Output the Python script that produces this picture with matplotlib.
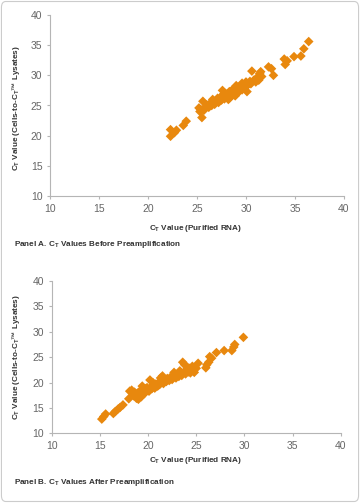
import matplotlib
matplotlib.use("Agg")
import matplotlib.pyplot as plt
from matplotlib.patches import FancyBboxPatch

plt.rcParams['font.family'] = ['Liberation Sans', 'DejaVu Sans']
plt.rcParams['mathtext.fontset'] = 'custom'
plt.rcParams['mathtext.rm'] = 'Liberation Sans'
plt.rcParams['mathtext.bf'] = 'Liberation Sans:bold'

# Panel A: before preamplification
purified_a = [22.3, 22.3, 22.7, 22.9, 23.6, 23.9,
              25.2, 25.3, 25.4, 25.5, 25.6, 25.7, 25.9, 26.0, 26.2, 26.3, 26.5, 26.6,
              26.7, 26.8, 26.9, 27.0, 27.1, 27.2, 27.3, 27.4, 27.5, 27.6, 27.6, 27.7,
              27.8, 27.9, 28.0, 28.1, 28.2, 28.3, 28.3, 28.4, 28.5, 28.6, 28.7, 28.8,
              28.9, 28.9, 29.0, 29.0, 29.1, 29.2, 29.3, 29.4, 29.5, 29.6, 29.6, 29.7,
              29.8, 29.9, 30.0, 30.0, 30.1, 30.2, 30.4, 30.5, 30.6, 30.8, 31.0, 31.1,
              31.3, 31.4, 31.5, 31.6, 32.3, 32.6, 32.8, 33.9, 34.0, 34.2, 34.9, 35.6,
              35.9, 36.4]
lysate_a = [19.9, 21.0, 20.5, 20.9, 21.7, 22.4,
            24.6, 24.0, 24.3, 23.0, 25.7, 24.2, 24.8, 25.1, 24.7, 25.3, 25.0, 26.0,
            25.4, 25.2, 25.8, 25.6, 26.2, 25.5, 26.0, 26.4, 25.9, 27.5, 26.5, 26.8,
            26.1, 27.0, 26.4, 26.8, 26.0, 27.3, 26.2, 26.6, 27.0, 27.6, 26.8, 27.2,
            27.8, 26.6, 27.0, 28.3, 27.5, 28.0, 27.3, 27.9, 28.2, 27.6, 28.7, 28.4,
            28.0, 28.6, 28.9, 28.1, 27.3, 28.5, 29.0, 28.6, 30.7, 29.2, 28.9, 29.6,
            29.2, 30.3, 30.6, 29.8, 31.4, 31.1, 30.0, 32.7, 31.8, 32.4, 33.1, 33.2,
            34.4, 35.6]

# Panel B: after preamplification
purified_b = [15.2, 15.4, 15.6, 16.4, 16.6, 16.9, 17.1, 17.4, 18.0, 18.1, 18.3, 18.5,
              18.6, 18.8, 18.9, 19.0, 19.1, 19.2, 19.3, 19.3, 19.4, 19.5, 19.6, 19.7,
              19.8, 19.9, 20.0, 20.1, 20.2, 20.3, 20.4, 20.5, 20.6, 20.7, 20.8, 21.0,
              21.1, 21.2, 21.3, 21.4, 21.5, 21.6, 21.7, 21.9, 22.0, 22.2, 22.3, 22.5,
              22.6, 22.7, 22.8, 22.9, 23.0, 23.2, 23.3, 23.4, 23.5, 23.6, 23.7, 23.8,
              23.9, 24.0, 24.1, 24.2, 24.3, 24.4, 24.5, 24.6, 24.8, 25.0, 25.2, 26.0,
              26.1, 26.3, 26.4, 26.6, 27.1, 27.9, 28.7, 28.9, 29.0, 29.9]
lysate_b = [12.8, 13.3, 13.8, 13.9, 14.3, 14.8, 15.1, 15.6, 16.8, 18.3, 18.5, 17.4,
            18.1, 16.9, 17.9, 16.7, 17.6, 18.0, 17.2, 18.6, 19.3, 18.3, 17.8, 18.8,
            18.2, 19.0, 18.6, 18.3, 20.5, 19.1, 18.8, 20.0, 19.4, 18.9, 19.7, 19.3,
            20.0, 19.6, 20.9, 20.2, 21.3, 19.8, 20.5, 20.2, 20.8, 20.4, 21.0, 20.6,
            21.3, 22.0, 21.5, 20.9, 21.6, 21.2, 22.3, 21.8, 21.4, 24.0, 22.0, 23.5,
            21.7, 22.5, 23.0, 22.1, 22.8, 21.9, 22.4, 23.2, 22.0, 22.8, 23.8, 22.9,
            23.5, 24.0, 25.1, 24.8, 25.9, 26.3, 26.3, 27.0, 27.5, 28.9]

ticks = [10, 15, 20, 25, 30, 35, 40]
orange = '#E8880E'
W, H = 360, 503

fig = plt.figure(figsize=(W / 100, H / 100), dpi=100)
fig.patches.append(FancyBboxPatch((0.004, 0.003), 0.992, 0.994,
                                  boxstyle="round,pad=0,rounding_size=0.012",
                                  transform=fig.transFigure, fill=False,
                                  edgecolor='#cccccc', linewidth=0.8))


def panel(rect, xs, ys):
    ax = fig.add_axes(rect)
    ax.scatter(xs, ys, marker='D', s=24, color=orange, edgecolors='none')
    ax.set_xlim(10, 40)
    ax.set_ylim(10, 40)
    ax.set_xticks(ticks)
    ax.set_yticks(ticks)
    for s in ['top', 'right']:
        ax.spines[s].set_visible(False)
    for s in ['left', 'bottom']:
        ax.spines[s].set_color('#b5b5b5')
        ax.spines[s].set_linewidth(0.8)
    ax.tick_params(colors='#b5b5b5', labelcolor='#666666', labelsize=7.5,
                   length=2.5, width=0.8, pad=3)
    return ax


# pixel -> figure fraction
def fx(px):
    return px / W


def fy(py):
    return 1 - py / H


panel([fx(50), fy(196), fx(344) - fx(50), fy(15) - fy(196)], purified_a, lysate_a)
panel([fx(51.7), fy(433.3), fx(340.7) - fx(51.7), fy(281) - fy(433.3)], purified_b, lysate_b)

xlab = r'C$_\mathbf{T}$ Value (Purified RNA)'
ylab = r'C$_\mathbf{T}$ Value (Cells-to-C$_\mathbf{T}$™ Lysates)'
kw = dict(fontsize=5.9, fontweight='bold', color='#333333')

fig.text(fx(196), fy(229), xlab, ha='center', va='center', **kw)
fig.text(fx(16), fy(108), ylab, ha='center', va='center', rotation=90, **kw)
fig.text(fx(14), fy(245), r'Panel A. C$_\mathbf{T}$ Values Before Preamplification',
         ha='left', va='center', **kw)

fig.text(fx(196), fy(461), xlab, ha='center', va='center', **kw)
fig.text(fx(16), fy(357), ylab, ha='center', va='center', rotation=90, **kw)
fig.text(fx(14), fy(482), r'Panel B. C$_\mathbf{T}$ Values After Preamplification',
         ha='left', va='center', **kw)

fig.savefig('out.png', dpi=100)
